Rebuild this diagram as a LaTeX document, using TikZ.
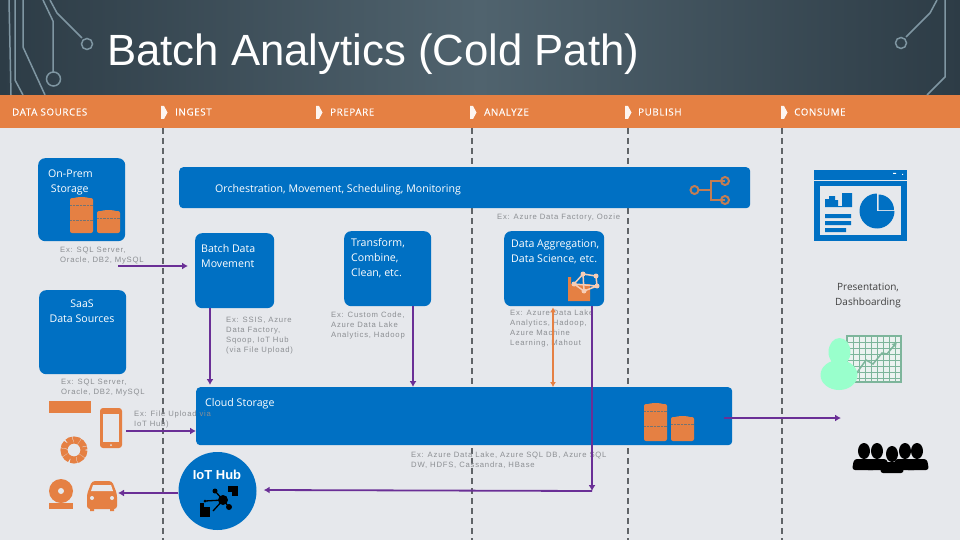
\documentclass[tikz,border=0pt]{standalone}
\usepackage{fontspec}
\setmainfont{Open Sans}
\newfontfamily\titlefont{Liberation Sans}
\newfontfamily\exfont[LetterSpace=10]{Liberation Sans}
\newfontfamily\bandfont[LetterSpace=6,FakeBold=0.25]{Open Sans}
\usetikzlibrary{arrows.meta}
\definecolor{Cpage}{HTML}{E6E8EC}
\definecolor{Cband}{HTML}{E58043}
\definecolor{Cblue}{HTML}{0070C3}
\definecolor{Cpurple}{HTML}{6A2F96}
\definecolor{Cdash}{HTML}{606468}
\definecolor{Cgrey}{HTML}{8C8F93}
\definecolor{Ctrace}{HTML}{7F96A2}
\definecolor{Cmint}{HTML}{99FFCC}
\definecolor{Cchart}{HTML}{7DB59B}
\definecolor{Cpale}{HTML}{F6CDB6}
\definecolor{Cheadedge}{HTML}{2D3C46}
\definecolor{Cheadmid}{HTML}{50636E}
\tikzset{
	bluebox/.style={fill=Cblue,rounded corners=7pt,inner sep=0pt,anchor=north west},
	boxtext/.style={text=white,font=\fontsize{10.6}{15}\selectfont,align=left,inner sep=0pt,anchor=north west},
	extext/.style={text=Cgrey,font=\exfont\fontsize{7.7}{10}\selectfont,align=left,inner sep=0pt,anchor=north west},
	bandtext/.style={text=white,font=\bandfont\fontsize{9.8}{11}\selectfont,inner sep=0pt,anchor=west},
	flow/.style={draw=Cpurple,line width=1.8pt,-{Latex[length=6pt,width=7pt]}},
	lane/.style={draw=Cdash,line width=1.8pt,dash pattern=on 6pt off 4pt},
	trace/.style={draw=Ctrace,line width=1.5pt},
}
\newcommand{\dbicon}[3]{%
	\fill[Cband,rounded corners=2pt] (#1,#2) rectangle (#1+23,#2+#3);
	\fill[Cband] (#1+11.5,#2+3) ellipse (11.5 and 4);
	\fill[Cband] (#1+11.5,#2+#3-3) ellipse (11.5 and 3);
	\draw[black!55,densely dotted,line width=0.4pt] (#1,#2+7) -- (#1+23,#2+7);
}
\newcommand{\bustperson}[3]{%
	\fill[#3] (#1,#2) ellipse (6 and 8);
	\fill[#3,rounded corners=3pt] (#1-12,#2+19) -- (#1-10,#2+8) -- (#1+10,#2+8) -- (#1+12,#2+19) -- cycle;
}
\begin{document}
\begin{tikzpicture}[x=1pt,y=-1pt]
	\useasboundingbox (0,0) rectangle (960,540);
	\fill[Cpage] (0,0) rectangle (960,540);
	\shade[left color=Cheadedge,right color=Cheadedge,middle color=Cheadmid] (0,0) rectangle (960,95);
	\fill[Cband] (0,95) rectangle (960,128);

	% circuit traces in the header
	\draw[trace] (9,0) -- (11,95);
	\draw[trace] (23,0) -- (23,47) -- (45,95);
	\draw[trace] (15,0) -- (15,80) -- (23,95);
	\draw[trace] (43,0) -- (53,21) -- (53,72);
	\draw[trace] (50,0) -- (57,13) -- (82,38);
	\draw[trace] (53.5,79) circle (7);
	\draw[trace] (87,44) circle (5.5);
	\draw[trace] (937,0) -- (930,13) -- (906,37);
	\draw[trace] (901,43) circle (5.5);
	\draw[trace] (945,0) -- (945,77) -- (927,95);

	\node[text=white,font=\titlefont\fontsize{43.7}{50}\selectfont,inner sep=0pt,anchor=west] (title) at (107,54) {Batch Analytics (Cold Path)};

	% lanes
	\draw[lane] (163,128) -- (163,540);
	\draw[lane] (472,128) -- (472,540);
	\draw[lane] (628,128) -- (628,540);
	\draw[lane] (782,128) -- (782,540);

	% band
	\node[bandtext] (sources) at (12,112) {DATA SOURCES};
	\node[bandtext] (ingest) at (175,112) {INGEST};
	\node[bandtext] (prepare) at (330,112) {PREPARE};
	\node[bandtext] (analyze) at (484,112) {ANALYZE};
	\node[bandtext] (publish) at (638,112) {PUBLISH};
	\node[bandtext] (consume) at (794,112) {CONSUME};
	\foreach \x in {161,316,470,625,781}
		\fill[white!92!Cband] (\x,106) -- (\x+3,106) -- (\x+6.5,112.5) -- (\x+3,119) -- (\x,119) -- cycle;

	% boxes
	\node[bluebox,minimum width=87pt,minimum height=83pt] (onprem) at (38,158) {};
	\node[bluebox,minimum width=87pt,minimum height=84pt] (saas) at (39,290) {};
	\node[bluebox,rounded corners=4pt,minimum width=571pt,minimum height=41pt] (orch) at (179,167) {};
	\node[bluebox,minimum width=79pt,minimum height=75pt] (batch) at (195,233) {};
	\node[bluebox,minimum width=87pt,minimum height=75pt] (transform) at (344,231) {};
	\node[bluebox,minimum width=100pt,minimum height=75pt] (aggregate) at (504,231) {};
	\node[bluebox,rounded corners=4pt,minimum width=536pt,minimum height=58pt] (storage) at (196,387) {};
	\node[circle,fill=Cblue,minimum size=78pt,inner sep=0pt] (iothub) at (217.5,491) {};

	\node[boxtext] (onpremtext) at (48,170) {On-Prem\\[-0.5pt]\ Storage};
	\node[boxtext,align=center,anchor=north] (saastext) at (82,300) {SaaS\\Data Sources};
	\node[boxtext,anchor=west] (orchtext) at (215,190) {Orchestration, Movement, Scheduling, Monitoring};
	\node[boxtext] (batchtext) at (201,244) {Batch Data\\Movement};
	\node[boxtext] (transformtext) at (351,238) {Transform,\\Combine,\\Clean, etc.};
	\node[boxtext] (aggregatetext) at (511,239.5) {Data Aggregation,\\Data Science, etc.};
	\node[boxtext] (storagetext) at (205,398) {Cloud Storage};
	\node[text=white,font=\titlefont\bfseries\fontsize{13}{15}\selectfont,inner sep=0pt] (iottext) at (217,474.5) {IoT Hub};

	% grey captions
	\node[extext] (onpremex) at (60,247) {Ex: SQL Server,\\Oracle, DB2, MySQL};
	\node[extext] (saasex) at (61,379) {Ex: SQL Server,\\Oracle, DB2, MySQL};
	\node[extext] (orchex) at (497,214) {Ex: Azure Data Factory, Oozie};
	\node[extext] (batchex) at (226,316.5) {Ex: SSIS, Azure\\Data Factory,\\Sqoop, IoT Hub\\(via File Upload)};
	\node[extext] (transformex) at (331,312) {Ex: Custom Code,\\Azure Data Lake\\Analytics, Hadoop};
	\node[extext] (aggregateex) at (510,310) {Ex: Azure Data Lake\\Analytics, Hadoop,\\Azure Machine\\Learning, Mahout};
	\node[extext] (uploadex) at (134,411) {Ex: File Upload via\\IoT Hub)};
	\node[extext] (storageex) at (411,452) {Ex: Azure Data Lake, Azure SQL DB, Azure SQL\\DW, HDFS, Cassandra, HBase};
	\node[text=black!75,font=\fontsize{10}{15}\selectfont,align=center,inner sep=0pt,anchor=north] (dashtext) at (868,283) {Presentation,\\Dashboarding};

	% database icons
	\dbicon{70}{198}{35}
	\dbicon{97}{211}{22}
	\dbicon{644}{404}{37}
	\dbicon{671}{417}{24}
	\draw[black!55,densely dotted,line width=0.4pt] (70,220) -- (93,220) (644,426) -- (667,426);

	% orchestration icon
	\draw[draw=Cband!80!black!85,line width=2pt] (699,190) -- (711,190) (725,181) -- (711,181) -- (711,200) -- (725,200);
	\draw[draw=Cband!80!black!85,line width=2pt] (694.5,190) circle (4) (725,181) circle (4) (725,200) circle (4);

	% dashboard icon
	\fill[Cblue] (814,170) rectangle (907,241);
	\draw[Cpage,line width=0.8pt] (814,180.5) -- (907,180.5);
	\fill[Cpage] (820,186) rectangle (901,235);
	\fill[white] (893,173) rectangle (896,174) (902,174) rectangle (903,175);
	\fill[Cblue] (825,199) -- (829,199) -- (829,196) -- (835,196) -- (835,200) -- (838,200) -- (838,206) -- (842,206) -- (842,193) -- (852,193) -- (852,207) -- (825,207) -- cycle;
	\fill[Cblue] (825,214) rectangle (851,218) (825,221) rectangle (851,225) (825,228) rectangle (846,232);
	\fill[Cblue] (877,211) circle (17.5);
	\fill[Cpage] (877,192) rectangle (897,211);
	\fill[Cblue] (878.5,194.5) arc (270:360:15.5) -- (878.5,210) -- cycle;

	% dashboard person with chart
	\fill[Cpage!60!Cchart!30!white] (847,336) rectangle (901,382);
	\begin{scope}[Cchart,line width=0.7pt]
		\foreach \x in {853,859,865,871,877,883,889,895}
			\draw (\x,336) -- (\x,382);
		\foreach \y in {342,348,354,360,366,372,378}
			\draw (847,\y) -- (901,\y);
	\end{scope}
	\draw[Cchart,line width=1.5pt] (847,336) rectangle (901,382);
	\draw[Cchart,line width=1.5pt,-{Latex[length=5pt,width=6pt]}] (856,374) -- (866,360) -- (873,364) -- (882,353) -- (887,354) -- (897,342);
	\fill[Cmint] (839.5,352) ellipse (11 and 14);
	\fill[Cmint] (839,375) ellipse (18.5 and 15);

	% audience
	\bustperson{864}{451}{black}
	\bustperson{877}{451}{black}
	\bustperson{917}{451}{black}
	\bustperson{905}{451}{black}
	\bustperson{892}{454}{black}

	% device icons
	\fill[Cband] (49,401) rectangle (91,413);
	\fill[Cband,rounded corners=3pt] (100,408) rectangle (122,448);
	\fill[Cpage] (103,414) rectangle (119,442);
	\fill[Cpage] (111,445) circle (1);
	\draw[Cband,line width=7pt,dash pattern=on 6pt off 0.6pt] (74,450) circle (10);
	\fill[Cband] (61,491) circle (12);
	\fill[Cpage] (61,491) circle (3);
	\fill[Cband] (49,503) -- (73,503) -- (73,509) -- (49,509) -- cycle;
	\fill[Cband,rounded corners=3pt] (87,494) -- (87,509) -- (117,509) -- (117,494) -- (112,481) -- (92,481) -- cycle;
	\fill[Cband] (90,505) rectangle (94,511) (110,505) rectangle (114,511);
	\fill[Cpage] (93,485) -- (111,485) -- (113,491) -- (91,491) -- cycle;
	\fill[Cpage] (92,498) circle (2) (112,498) circle (2);

	% analytics icon
	\fill[Cband] (568,277) -- (571,277) -- (571,284) -- (590,284) -- (590,301) -- (568,301) -- cycle;
	\draw[Cpale,line width=1.5pt] (574,284) -- (583,274) -- (596,276) -- (597,286) -- (584,291) -- cycle (583,274) -- (584,291) (574,284) -- (597,286);
	\foreach \x/\y in {574/284,583/274,596/276,597/286,584/291}
		\fill[Cpale] (\x,\y) circle (2.5);

	% iot icon
	\fill[black] (232,486) rectangle (238,496);
	\fill[black] (228,486) rectangle (238,492);
	\fill[black] (200,507) rectangle (210,517);
	\fill[black] (200,507) rectangle (204,503);
	\draw[black,line width=1.3pt] (223,500) -- (205,501) (223,500) -- (215,491) (223,500) -- (229,507) (223,500) -- (213,511);
	\fill[black] (223,500) circle (5) (215,491) circle (2.5) (229,507) circle (3) (205,501) circle (1.5);

	% flows
	\draw[flow] ([xshift=-77pt,yshift=-33pt]batch.north west) -- ([xshift=-7pt,yshift=-33pt]batch.north west);
	\draw[flow] ([xshift=15pt]batch.south west) -- ([xshift=14pt,yshift=2pt]storage.north west);
	\draw[flow] ([xshift=69pt]transform.south west) -- ([xshift=217pt]storage.north west);
	\draw[draw=Cband,line width=1.5pt,{Latex[length=5pt,width=6pt]}-{Latex[length=5pt,width=6pt]}] ([xshift=49pt,yshift=-1pt]aggregate.south west) -- ([xshift=357pt]storage.north west);
	\coordinate (turn) at (592,491);
	\draw[flow] ([xshift=88pt]aggregate.south west) -- (turn);
	\draw[flow] (turn) -- ([xshift=7pt,yshift=1pt]iothub.east);
	\draw[flow] ([xshift=-70pt,yshift=-44pt]storage.north west) -- ([yshift=-44pt]storage.north west);
	\draw[flow] (iothub.west |- 0,493) -- (118,493);
	\coordinate (audience) at (841,418);
	\draw[flow] ([xshift=-8pt,yshift=-31pt]storage.north east) -- (audience);
\end{tikzpicture}
\end{document}
